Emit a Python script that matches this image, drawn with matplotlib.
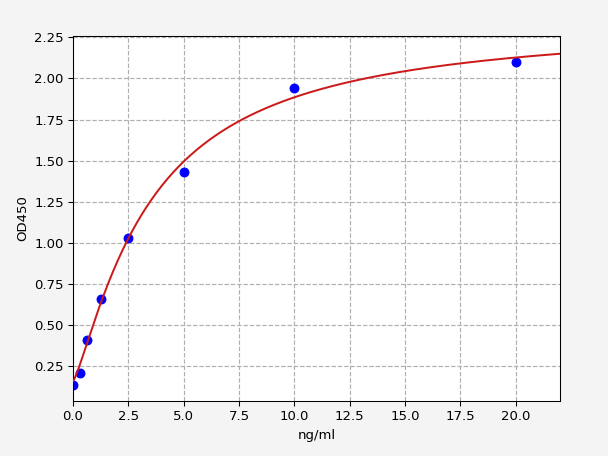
import numpy as np
import matplotlib
matplotlib.use('Agg')
import matplotlib.pyplot as plt

# standard points
conc = [0, 0.3125, 0.625, 1.25, 2.5, 5, 10, 20]
od = [0.14, 0.21, 0.41, 0.66, 1.03, 1.43, 1.94, 2.10]

# 4PL fit parameters
fit_a = 0.16
fit_b = 1.25
fit_c = 3.5
fit_d = 2.35


def four_pl(x, a, b, c, d):
    return d + (a - d) / (1 + (x / c) ** b)


def main():
    fig = plt.figure(figsize=(6.4, 4.8), dpi=95, facecolor='#f4f4f4')
    ax = fig.add_axes([73 / 608, 1 - 401 / 456, (560 - 73) / 608, (401 - 36) / 456])

    xs = np.linspace(0, 22, 400)
    ax.plot(conc, od, 'o', color='#0000ff', markersize=6.5, zorder=2)
    ax.plot(xs, four_pl(xs, fit_a, fit_b, fit_c, fit_d), color='#cc1a1a', lw=1.5, zorder=3)

    ax.set_xlim(0, 22)
    ax.set_ylim(0.04, 2.258)
    ax.set_xticks(np.arange(0, 22.5, 2.5))
    ax.set_yticks(np.arange(0.25, 2.26, 0.25))
    ax.grid(True, linestyle='--', color='#b0b0b0', lw=0.9)
    ax.set_xlabel('ng/ml')
    ax.set_ylabel('OD450')

    fig.savefig('out.png', dpi=95, facecolor=fig.get_facecolor())


if __name__ == '__main__':
    main()
